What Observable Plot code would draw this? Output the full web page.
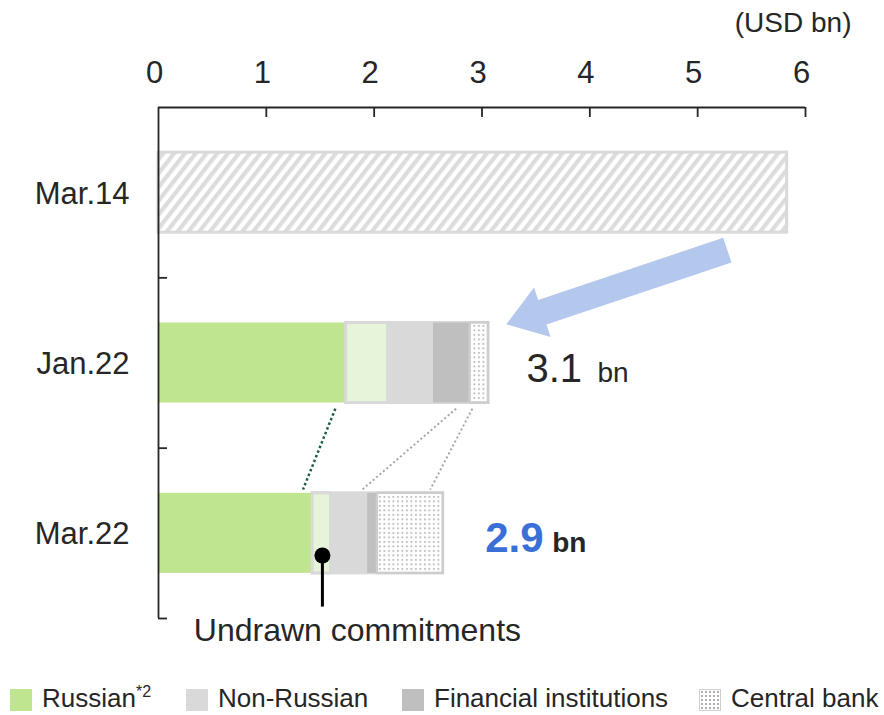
<!DOCTYPE html>
<html>
<head>
<meta charset="utf-8">
<script src="https://cdn.jsdelivr.net/npm/d3@7"></script>
<script src="https://cdn.jsdelivr.net/npm/@observablehq/plot@0.6"></script>
<style>
  body { margin: 0; background: #fff; font-family: "Liberation Sans", Arial, sans-serif; color: #262626; }
  #chart svg { display: block; }
  #legend { position: relative; width: 884px; height: 35px; font-size: 26px; }
  #legend .sw { position: absolute; top: 9px; width: 22px; height: 22px; box-sizing: border-box; }
  #legend .lb { position: absolute; top: 3px; line-height: 30px; white-space: nowrap; }
  #legend sup { font-size: 16px; vertical-align: 0; position: relative; top: -10px; }
</style>
</head>
<body>
<div id="chart"></div>
<div id="legend"></div>
<script>
// Exposure by period (USD bn)
const periods = ["Mar.14", "Jan.22", "Mar.22"];
const segments = ["Russian", "Undrawn commitments", "Non-Russian", "Financial institutions", "Central bank"];
const mar14Total = 5.83;
const jan22 = [1.74, 0.39, 0.42, 0.34, 0.17];
const mar22 = [1.43, 0.17, 0.34, 0.09, 0.61];
const totalLabels = ["3.1", "2.9"];
const xTicks = [0, 1, 2, 3, 4, 5, 6];
const legendItems = ["Russian", "Non-Russian", "Financial institutions", "Central bank"];

// Segment styling
const segStyle = {
  "Russian": {fill: "#bfe590"},
  "Undrawn commitments": {fill: "#e6f4da", stroke: "#d9d9d9", strokeWidth: 3},
  "Non-Russian": {fill: "#d9d9d9"},
  "Financial institutions": {fill: "#bfbfbf"},
  "Central bank": {fill: "url(#dots)", stroke: "#cdcdcd", strokeWidth: 2.5}
};

// Stack the two recent periods
const rows = [];
[[1, jan22], [2, mar22]].forEach(([row, vals]) => {
  let acc = 0;
  vals.forEach((v, k) => {
    rows.push({row, seg: segments[k], x1: acc, x2: acc + v});
    acc += v;
  });
});
const totals = [1, 2].map((row, i) => ({
  row,
  end: d3.max(rows.filter(d => d.row === row), d => d.x2),
  label: totalLabels[i]
}));

const half = 0.235;        // half bar thickness, in row units
const yTop = -0.5, yBottom = 2.5;
const yRange = [107, 618];
const pxPerRow = (yRange[1] - yRange[0]) / (yBottom - yTop);
const pxPerUnit = (805 - 158) / 6;

// Thick light-blue arrow from the 2014 bar to the Jan.22 bar
const arrowFrom = [5.28, 0.34];
const arrowTo = [3.23, 0.776];
function arrowMark(index, scales) {
  const x0 = scales.x(arrowFrom[0]), y0 = scales.y(arrowFrom[1]);
  const x1 = scales.x(arrowTo[0]), y1 = scales.y(arrowTo[1]);
  const dx = x1 - x0, dy = y1 - y0, len = Math.hypot(dx, dy);
  const ux = dx / len, uy = dy / len, nx = -uy, ny = ux;
  const shaft = 13, head = 26, headLen = 38;
  const bx = x1 - ux * headLen, by = y1 - uy * headLen;
  const pts = [
    [x0 + nx * shaft, y0 + ny * shaft],
    [bx + nx * shaft, by + ny * shaft],
    [bx + nx * head, by + ny * head],
    [x1, y1],
    [bx - nx * head, by - ny * head],
    [bx - nx * shaft, by - ny * shaft],
    [x0 - nx * shaft, y0 - ny * shaft]
  ];
  return d3.create("svg:path").attr("d", "M" + pts.join("L") + "Z").attr("fill", "#b4c7ec").node();
}

// Dotted connectors between the two recent bars
const connectors = [
  {x1: 1.64, x2: 1.34, kind: "russian"},
  {x1: 2.76, x2: 1.89, kind: "other"},
  {x1: 2.91, x2: 2.52, kind: "other"}
];
const cy1 = 1.268, cy2 = 1.743;

const marks = [
  // 2014 total, hatched
  Plot.rect([{row: 0, x1: 0, x2: mar14Total}], {
    x1: "x1", x2: "x2", y1: d => d.row - half, y2: d => d.row + half,
    fill: "url(#hatch)", stroke: "#d9d9d9", strokeWidth: 3
  }),
  // outline around the non-Russian part of each stacked bar
  Plot.rect(totals, {
    x1: d => rows.find(r => r.row === d.row && r.seg === "Russian").x2, x2: "end",
    y1: d => d.row - half, y2: d => d.row + half,
    fill: "#d9d9d9", stroke: "#d9d9d9", strokeWidth: 3
  }),
  // stacked segments
  ...segments.map(s => Plot.rect(rows.filter(d => d.seg === s), {
    x1: "x1", x2: "x2", y1: d => d.row - half, y2: d => d.row + half,
    ...segStyle[s]
  })),
  // connectors
  Plot.link(connectors.filter(d => d.kind === "russian"), {
    x1: "x1", x2: "x2", y1: () => cy1, y2: () => cy2,
    stroke: "#1d5e45", strokeWidth: 2.5, strokeDasharray: "2.5,2.5"
  }),
  Plot.link(connectors.filter(d => d.kind === "other"), {
    x1: "x1", x2: "x2", y1: () => cy1, y2: () => cy2,
    stroke: "#a6a6a6", strokeWidth: 2, strokeDasharray: "2,2.5"
  }),
  arrowMark,
  // axes
  Plot.ruleY([yTop], {x1: 0, x2: 6, stroke: "#262626", strokeWidth: 1.8}),
  Plot.ruleX([0], {y1: yTop, y2: yBottom, stroke: "#262626", strokeWidth: 1.8}),
  Plot.ruleX(xTicks.slice(1), {x: d => d, y1: yTop, y2: yTop + 10 / pxPerRow, stroke: "#262626", strokeWidth: 1.8}),
  Plot.ruleY([0.5, 1.5, 2.5], {y: d => d, x1: 0, x2: 9 / pxPerUnit, stroke: "#262626", strokeWidth: 1.8}),
  Plot.text(xTicks, {x: d => d, y: yTop, text: d => String(d), dy: -34, dx: -4, fontSize: 31, fill: "#262626"}),
  Plot.text(["(USD bn)"], {x: 6, y: yTop, text: d => d, dx: 46, dy: -84, textAnchor: "end", fontSize: 28, fill: "#262626"}),
  Plot.text(periods, {x: 0, y: (d, i) => i, text: d => d, textAnchor: "end", dx: -29, dy: 1, fontSize: 31, fill: "#262626"}),
  // totals
  Plot.text(totals.filter(d => d.row === 1), {x: "end", y: "row", text: "label", dx: 38, dy: 6, textAnchor: "start", fontSize: 40, fill: "#262626"}),
  Plot.text(totals.filter(d => d.row === 1), {x: "end", y: "row", text: () => "bn", dx: 109, dy: 10, textAnchor: "start", fontSize: 28, fill: "#262626"}),
  Plot.text(totals.filter(d => d.row === 2), {x: "end", y: "row", text: "label", dx: 42, dy: 5, textAnchor: "start", fontSize: 42, fontWeight: "bold", fill: "#3a6fd8"}),
  Plot.text(totals.filter(d => d.row === 2), {x: "end", y: "row", text: () => "bn", dx: 109, dy: 10, textAnchor: "start", fontSize: 28, fontWeight: "bold", fill: "#262626"}),
  // undrawn commitments callout
  Plot.link([{x: 1.52}], {x1: "x", x2: "x", y1: () => 2.13, y2: () => 2.43, stroke: "#000", strokeWidth: 3}),
  Plot.dot([{x: 1.52}], {x: "x", y: () => 2.13, r: 8, fill: "#000"}),
  Plot.text([segments[1]], {x: 1.845, y: 2.57, text: d => d, fontSize: 32, fill: "#262626"})
];

const svg = Plot.plot({
  width: 884,
  height: 680,
  marginLeft: 158,
  marginRight: 79,
  marginTop: 107,
  marginBottom: 62,
  x: {domain: [0, 6], axis: null},
  y: {domain: [yTop, yBottom], range: yRange, axis: null},
  style: {fontFamily: "'Liberation Sans', Arial, sans-serif", background: "#fff", overflow: "visible"},
  marks
});

// Fill patterns: diagonal hatch and dots
const defs = d3.select(svg).insert("defs", ":first-child");
const hatch = defs.append("pattern").attr("id", "hatch").attr("patternUnits", "userSpaceOnUse")
  .attr("width", 8.5).attr("height", 10).attr("patternTransform", "rotate(38)");
hatch.append("rect").attr("width", 8.5).attr("height", 10).attr("fill", "#fff");
hatch.append("rect").attr("width", 4.2).attr("height", 10).attr("fill", "#dcdcdc");
const dots = defs.append("pattern").attr("id", "dots").attr("patternUnits", "userSpaceOnUse")
  .attr("width", 4.5).attr("height", 4.5);
dots.append("rect").attr("width", 4.5).attr("height", 4.5).attr("fill", "#fff");
dots.append("rect").attr("x", 1).attr("y", 1).attr("width", 1.8).attr("height", 1.8).attr("fill", "#b8b8b8");

document.getElementById("chart").appendChild(svg);

// Legend
const legendPos = [10, 186, 402, 699];
const swatchStyle = {
  "Russian": "background:#bfe590;",
  "Non-Russian": "background:#d9d9d9;",
  "Financial institutions": "background:#bfbfbf;",
  "Central bank": "background-color:#fff;background-image:radial-gradient(#b0b0b0 0.9px, transparent 1.1px);background-size:4px 4px;border:1px solid #cfcfcf;"
};
const legend = d3.select("#legend");
legendItems.forEach((name, i) => {
  legend.append("span").attr("class", "sw").attr("style", swatchStyle[name] + `left:${legendPos[i]}px;`);
  const lb = legend.append("span").attr("class", "lb").style("left", (legendPos[i] + 32) + "px").text(name);
  if (name === "Russian") lb.append("sup").text("*2");
});
</script>
</body>
</html>
